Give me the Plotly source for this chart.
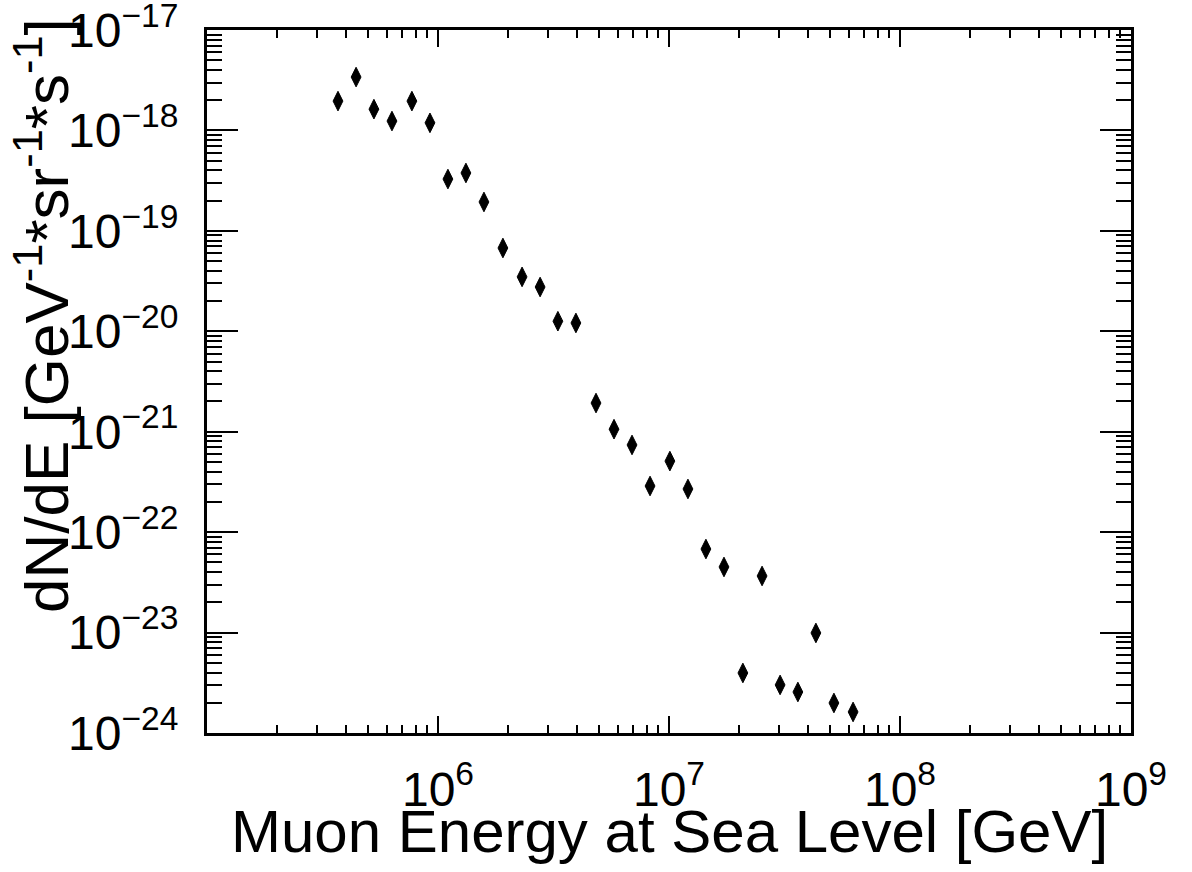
import plotly.graph_objects as go

# Data
energy_gev = [3.69e5, 4.42e5, 5.28e5, 6.32e5, 7.71e5, 9.23e5, 1.104e6, 1.321e6,
              1.581e6, 1.910e6, 2.312e6, 2.767e6, 3.304e6, 3.954e6, 4.831e6,
              5.781e6, 6.918e6, 8.279e6, 1.009e7, 1.208e7, 1.445e7, 1.730e7,
              2.089e7, 2.529e7, 3.027e7, 3.614e7, 4.325e7, 5.176e7, 6.266e7]
flux = [1.96e-18, 3.40e-18, 1.63e-18, 1.24e-18, 1.96e-18, 1.19e-18, 3.28e-19,
        3.77e-19, 1.94e-19, 6.75e-20, 3.48e-20, 2.76e-20, 1.26e-20, 1.21e-20,
        1.93e-21, 1.06e-21, 7.38e-22, 2.88e-22, 5.10e-22, 2.69e-22, 6.79e-23,
        4.50e-23, 3.96e-24, 3.66e-23, 3.01e-24, 2.56e-24, 9.91e-24, 1.99e-24,
        1.62e-24]

x_tick_vals = [1e6, 1e7, 1e8, 1e9]
x_tick_text = ["10<sup>6</sup>", "10<sup>7</sup>", "10<sup>8</sup>", "10<sup>9</sup>"]
y_tick_vals = [1e-17, 1e-18, 1e-19, 1e-20, 1e-21, 1e-22, 1e-23, 1e-24]
y_tick_text = ["10<sup>\u221217</sup>", "10<sup>\u221218</sup>", "10<sup>\u221219</sup>",
               "10<sup>\u221220</sup>", "10<sup>\u221221</sup>", "10<sup>\u221222</sup>",
               "10<sup>\u221223</sup>", "10<sup>\u221224</sup>"]
x_title = "Muon Energy at Sea Level [GeV]"
y_title = "dN/dE [GeV<sup>-1</sup>*sr<sup>-1</sup>*s<sup>-1</sup>]"

FONT = "Liberation Sans, Arial, Helvetica, sans-serif"

fig = go.Figure()
fig.add_trace(go.Scatter(
    x=energy_gev, y=flux, mode="markers",
    marker=dict(symbol="diamond-tall", size=14, color="black",
                line=dict(width=1, color="black")),
    showlegend=False,
))

fig.update_layout(
    width=1192, height=872,
    margin=dict(l=207, r=61, t=30, b=139),
    paper_bgcolor="white", plot_bgcolor="white",
    font=dict(family=FONT, color="black"),
)

fig.update_xaxes(
    type="log", range=[5.0, 9.0001], automargin=False,
    showgrid=False, zeroline=False,
    showline=True, linecolor="black", linewidth=3, mirror="allticks",
    ticks="inside", ticklen=17, tickwidth=2, tickcolor="black",
    tickvals=x_tick_vals, ticktext=x_tick_text,
    tickfont=dict(size=48, family=FONT, color="black"),
    ticklabelstandoff=12, ticklabeloverflow="allow",
    minor=dict(ticks="inside", ticklen=8, tickwidth=2, tickcolor="black",
               dtick="D1", showgrid=False),
)
fig.update_yaxes(
    type="log", range=[-24.0001, -16.9999], automargin=False,
    showgrid=False, zeroline=False,
    showline=True, linecolor="black", linewidth=3, mirror="allticks",
    ticks="inside", ticklen=31, tickwidth=2, tickcolor="black",
    tickvals=y_tick_vals, ticktext=y_tick_text,
    tickfont=dict(size=48, family=FONT, color="black"),
    ticklabelstandoff=16, ticklabeloverflow="allow",
    minor=dict(ticks="inside", ticklen=15, tickwidth=2, tickcolor="black",
               dtick="D1", showgrid=False),
)

fig.add_annotation(
    text=x_title, xref="paper", yref="paper", x=0.5, y=-0.09,
    xanchor="center", yanchor="top", showarrow=False,
    font=dict(size=60, family=FONT, color="black"),
)
fig.add_annotation(
    text=y_title, xref="paper", yref="paper", x=-0.178, y=1.02,
    xanchor="center", yanchor="top", showarrow=False, textangle=-90,
    font=dict(size=62, family=FONT, color="black"),
)

fig.write_html("out.html")
